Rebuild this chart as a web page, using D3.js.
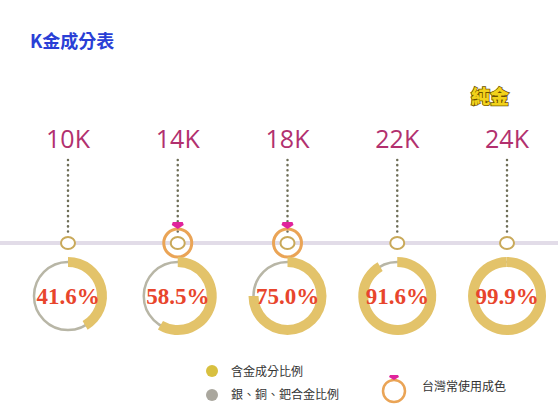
<!DOCTYPE html><html><head><meta charset="utf-8"><script src="https://cdn.jsdelivr.net/npm/d3@7"></script>
<style>body{margin:0;background:#fff}</style></head><body><svg id="c" width="558" height="419"></svg>
<script>
const categories=["10K","14K","18K","22K","24K"];
const goldPct=[41.6,58.5,75.0,91.6,99.9];
const taiwanCommon=[false,true,true,false,false];
const svg=d3.select("#c");
const x=d3.scalePoint().domain(categories).range([68,507]);
const arcScale=d3.scaleLinear().domain([0,100]).range([0,2*Math.PI]);
svg.append("text").attr("x",30).attr("y",48).text("K金成分表").attr("fill","#2a3fd6").attr("font-size",18).attr("font-weight","bold").attr("font-family","Noto Sans CJK TC");
svg.append("rect").attr("x",0).attr("y",241).attr("width",558).attr("height",4).attr("fill","#e2dce8");
svg.append("g").attr("transform","translate(490,104)").call(g=>{
 g.append("text").text("純金").attr("text-anchor","middle").attr("font-size",19).attr("font-weight","900").attr("font-family","Noto Sans CJK TC").attr("fill","#f2d21a").attr("stroke","#6b5000").attr("stroke-width",1.5).attr("paint-order","stroke");
});
const g=svg.selectAll("g.k").data(categories).join("g").attr("transform",d=>`translate(${x(d)},0)`);
g.append("text").attr("y",148).attr("text-anchor","middle").text(d=>d).attr("fill","#b2306e").attr("font-size",25).attr("font-family","Open Sans");
g.append("line").attr("y1",160).attr("y2",236).attr("stroke","#6e6e58").attr("stroke-width",2.5).attr("stroke-dasharray","0.1 5").attr("stroke-linecap","round");
g.filter((d,i)=>taiwanCommon[i]).call(s=>{
 s.append("circle").attr("cy",243).attr("r",14).attr("fill","none").attr("stroke","#eaa456").attr("stroke-width",3);
 s.append("path").attr("d","M-5,-3 L5,-3 L6,0 L0,4 L-6,0Z").attr("transform","translate(0,225)").attr("fill","#e0249c");
});
g.append("ellipse").attr("cy",243).attr("rx",7).attr("ry",6).attr("fill","#fff").attr("stroke","#c9a95a").attr("stroke-width",2);
const cy=296,r=34;
g.append("circle").attr("cy",cy).attr("r",r).attr("fill","none").attr("stroke","#b8b6a6").attr("stroke-width",2.5);
g.append("path").attr("transform",`translate(0,${cy})`).attr("d",(d,i)=>d3.arc()({innerRadius:r-5,outerRadius:r+5,startAngle:0,endAngle:arcScale(goldPct[i]),cornerRadius:2})).attr("fill","#e3c36a");
g.append("text").attr("y",cy+8).attr("text-anchor","middle").text((d,i)=>goldPct[i].toFixed(1)+"%").attr("fill","#e8452c").attr("font-size",23).attr("font-weight","bold").attr("font-family","Liberation Serif");
svg.append("ellipse").attr("cx",212).attr("cy",371).attr("rx",6).attr("ry",6).attr("fill","#d8c040");
svg.append("ellipse").attr("cx",212).attr("cy",395).attr("rx",6).attr("ry",6).attr("fill","#aaa79e");
svg.append("text").attr("x",231).attr("y",376).text("含金成分比例").attr("font-size",12).attr("fill","#333").attr("font-family","Noto Sans CJK TC");
svg.append("text").attr("x",231).attr("y",399).text("銀、銅、鈀合金比例").attr("font-size",12).attr("fill","#333").attr("font-family","Noto Sans CJK TC");
svg.append("circle").attr("cx",394).attr("cy",391).attr("r",11).attr("fill","none").attr("stroke","#eaa456").attr("stroke-width",2.5);
svg.append("path").attr("d","M-4,-2 L4,-2 L5,0 L0,3 L-5,0Z").attr("transform","translate(394,377)").attr("fill","#e0249c");
svg.append("text").attr("x",422).attr("y",391).text("台灣常使用成色").attr("font-size",12).attr("fill","#333").attr("font-family","Noto Sans CJK TC");
</script></body></html>
